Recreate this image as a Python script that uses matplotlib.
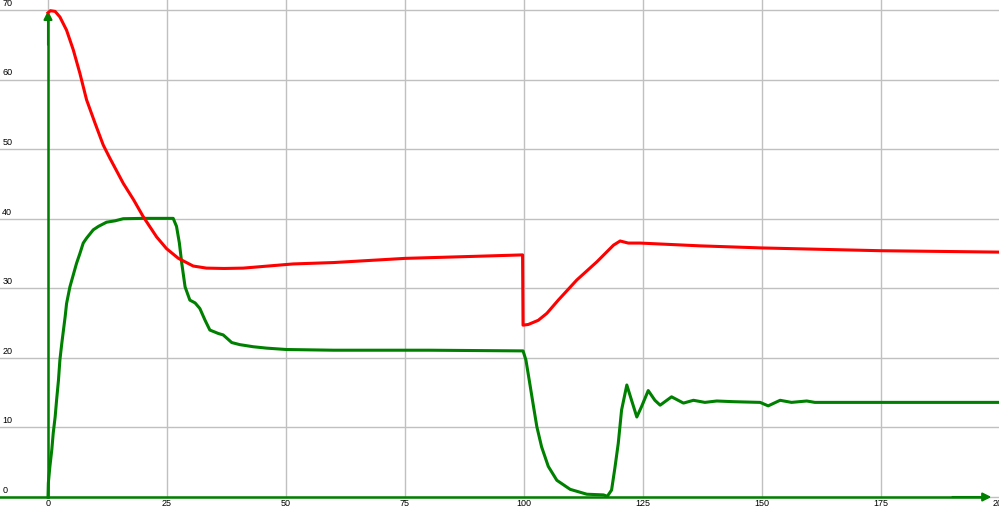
import matplotlib.pyplot as plt

# values
red_x = [0, 0.5, 1.5, 2.5, 3.9, 5.3, 6.7, 8.1, 9.9, 11.6, 13.0, 15.8, 18.0, 20.0,
         22.8, 24.9, 27.4, 30.5, 33.3, 37.0, 41.0, 44.5, 51.5, 60, 75, 90, 99.7,
         99.8, 100.9, 103.0, 104.8, 107.2, 111.1, 115.3, 118.8, 120.2, 121.9,
         124.4, 137, 150, 175, 200]
red_y = [69.6, 69.9, 69.8, 69.0, 67.1, 64.3, 60.9, 57.1, 53.7, 50.6, 48.7, 45.1,
         42.7, 40.3, 37.4, 35.7, 34.3, 33.2, 32.9, 32.85, 32.9, 33.1, 33.5, 33.7,
         34.3, 34.6, 34.8, 24.7, 24.8, 25.4, 26.4, 28.3, 31.2, 33.8, 36.2, 36.8,
         36.5, 36.5, 36.1, 35.8, 35.4, 35.2]

green_x = [0, 0.07, 0.4, 0.8, 1.1, 1.5, 1.8, 2.2, 2.5, 2.9, 3.6, 3.9, 4.6, 5.3, 6.0,
           6.7, 7.4, 8.1, 9.5, 10.6, 12.3, 14.1, 15.8, 20, 26.3,
           27.0, 27.6, 28.1, 28.8, 29.8, 30.9, 31.9, 33.0, 34.0, 35.8, 36.8, 38.6,
           40.3, 43.1, 45.9, 50.1, 60, 80, 99.8, 100.4, 101.1, 102.0, 102.7, 103.7,
           105.1, 106.9, 109.7, 113.2, 116.7, 117.5, 118.4, 119.1, 119.8, 120.5,
           121.6, 122.6, 123.7, 124.7, 126.1, 127.5, 128.6, 131.0, 133.5, 135.6,
           138.0, 140.5, 144, 149.6, 151.3, 153.8, 156.2, 159.4, 161.1, 175, 200]
green_y = [0, 2.0, 4.4, 6.8, 9.2, 11.5, 13.9, 16.8, 19.7, 22.1, 25.9, 27.8, 30.2,
           31.9, 33.6, 35.0, 36.5, 37.2, 38.4, 38.9, 39.5, 39.7, 40.0, 40.05,
           40.05, 38.9, 36.5, 33.6, 30.2, 28.3, 27.9, 27.1, 25.4, 24.0, 23.5, 23.3,
           22.2, 21.9, 21.6, 21.4, 21.2, 21.1, 21.1, 21.0, 19.7, 16.8, 13.0, 10.1,
           7.2, 4.4, 2.4, 1.1, 0.4, 0.3, 0.1, 1.0, 4.2, 7.7, 12.5, 16.1, 13.9, 11.5,
           13.0, 15.3, 13.9, 13.2, 14.4, 13.5, 13.9, 13.6, 13.8, 13.7, 13.6, 13.1,
           13.9, 13.6, 13.8, 13.6, 13.6, 13.6]

x_ticks = [0, 25, 50, 75, 100, 125, 150, 175, 200]
y_ticks = [0, 10, 20, 30, 40, 50, 60, 70]

fig = plt.figure(figsize=(9.99, 5.11), dpi=100)
ax = fig.add_axes([0, 0, 1, 1])
ax.axis('off')
x0, x1 = -48 / 4.76, 951 / 4.76
y0, y1 = -14 / 6.957, 497 / 6.957
ax.set_xlim(x0, x1)
ax.set_ylim(y0, y1)

grid = '#c0c0c0'
for v in y_ticks:
    ax.plot([x0, x1], [v, v], color=grid, lw=1, zorder=1)
    ax.text(-9.6, v + 0.6, str(v), ha='left', va='baseline', fontsize=6.5,
            family='Liberation Sans')
for v in x_ticks:
    ax.plot([v, v], [0, y1], color=grid, lw=1, zorder=1)
    ax.text(v, -0.25, str(v), ha='center', va='top', fontsize=6.5,
            family='Liberation Sans')

# axes with arrows
ax.plot([x0, 197], [0, 0], color='green', lw=1.8, zorder=2)
ax.plot([0, 0], [0, 69], color='green', lw=1.8, zorder=2)
ax.annotate('', xy=(198.2, 0), xytext=(190, 0),
            arrowprops=dict(arrowstyle='-|>,head_length=0.5,head_width=0.25',
                            color='green', lw=1.5, shrinkA=0, shrinkB=0))
ax.annotate('', xy=(0, 69.9), xytext=(0, 65),
            arrowprops=dict(arrowstyle='-|>,head_length=0.5,head_width=0.25',
                            color='green', lw=1.5, shrinkA=0, shrinkB=0))

ax.plot(green_x, green_y, color='#008000', lw=2.2, zorder=3, solid_joinstyle='round')
ax.plot(red_x, red_y, color='#ff0000', lw=2.2, zorder=4, solid_joinstyle='round')

fig.savefig('out.png', dpi=100)
